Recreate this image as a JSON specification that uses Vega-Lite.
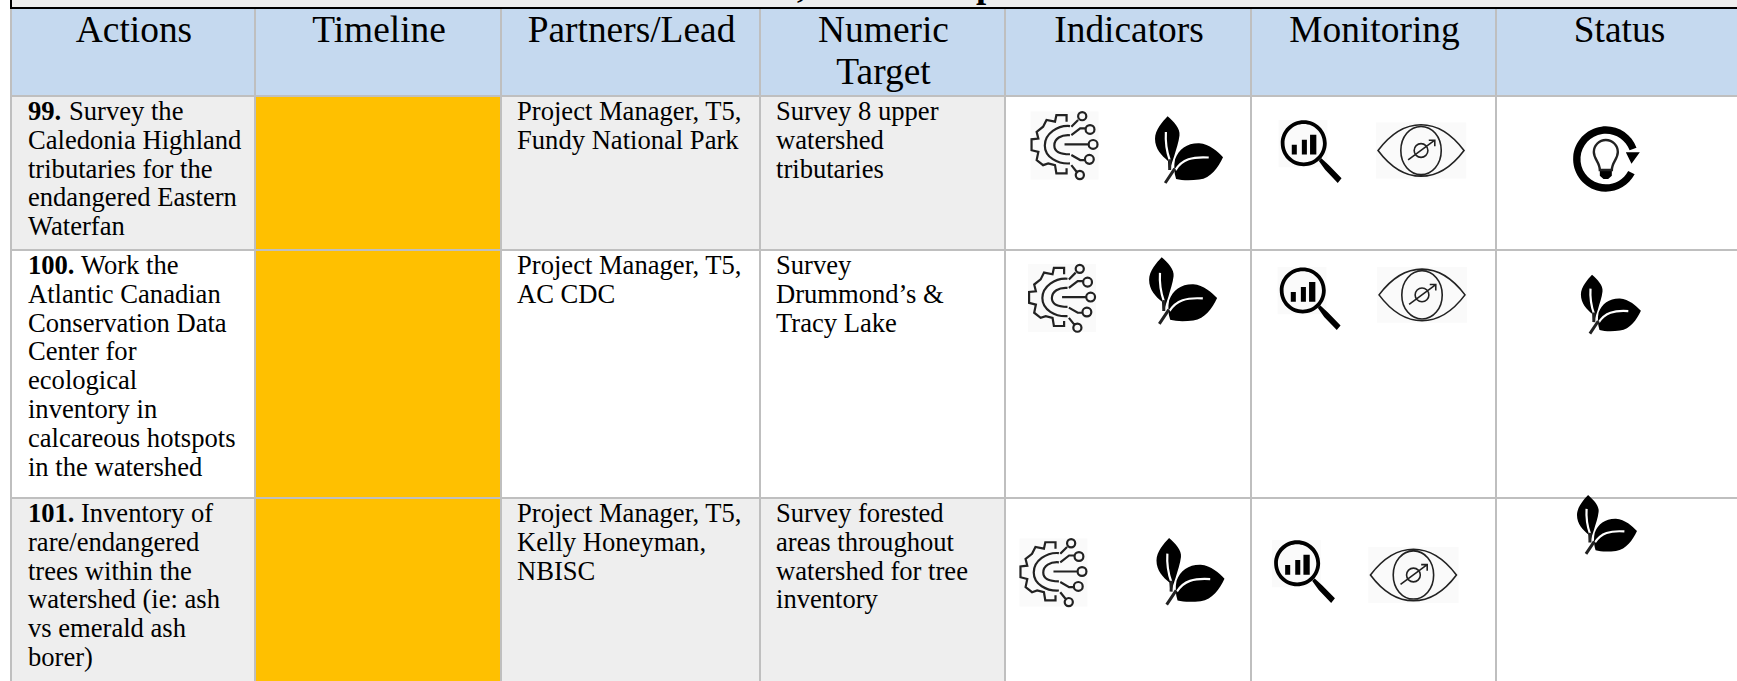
{
"$schema":"https://vega.github.io/schema/vega-lite/v6.json",
"width":1737,"height":681,"padding":0,"autosize":{"type":"none"},"background":"white",
"config":{"view":{"stroke":null},"text":{"font":"Liberation Serif"}},
"datasets":{
"cells":[
{"col":0,"colEnd":1,"row":0,"rowEnd":1,"kind":"header"},{"col":1,"colEnd":2,"row":0,"rowEnd":1,"kind":"header"},{"col":2,"colEnd":3,"row":0,"rowEnd":1,"kind":"header"},{"col":3,"colEnd":4,"row":0,"rowEnd":1,"kind":"header"},{"col":4,"colEnd":5,"row":0,"rowEnd":1,"kind":"header"},{"col":5,"colEnd":6,"row":0,"rowEnd":1,"kind":"header"},{"col":6,"colEnd":7,"row":0,"rowEnd":1,"kind":"header"},
{"col":0,"colEnd":1,"row":1,"rowEnd":2,"kind":"shaded"},{"col":1,"colEnd":2,"row":1,"rowEnd":2,"kind":"timeline"},{"col":2,"colEnd":3,"row":1,"rowEnd":2,"kind":"shaded"},{"col":3,"colEnd":4,"row":1,"rowEnd":2,"kind":"shaded"},{"col":4,"colEnd":5,"row":1,"rowEnd":2,"kind":"plain"},{"col":5,"colEnd":6,"row":1,"rowEnd":2,"kind":"plain"},{"col":6,"colEnd":7,"row":1,"rowEnd":2,"kind":"plain"},
{"col":0,"colEnd":1,"row":2,"rowEnd":3,"kind":"plain"},{"col":1,"colEnd":2,"row":2,"rowEnd":3,"kind":"timeline"},{"col":2,"colEnd":3,"row":2,"rowEnd":3,"kind":"plain"},{"col":3,"colEnd":4,"row":2,"rowEnd":3,"kind":"plain"},{"col":4,"colEnd":5,"row":2,"rowEnd":3,"kind":"plain"},{"col":5,"colEnd":6,"row":2,"rowEnd":3,"kind":"plain"},{"col":6,"colEnd":7,"row":2,"rowEnd":3,"kind":"plain"},
{"col":0,"colEnd":1,"row":3,"rowEnd":4,"kind":"shaded"},{"col":1,"colEnd":2,"row":3,"rowEnd":4,"kind":"timeline"},{"col":2,"colEnd":3,"row":3,"rowEnd":4,"kind":"shaded"},{"col":3,"colEnd":4,"row":3,"rowEnd":4,"kind":"shaded"},{"col":4,"colEnd":5,"row":3,"rowEnd":4,"kind":"plain"},{"col":5,"colEnd":6,"row":3,"rowEnd":4,"kind":"plain"},{"col":6,"colEnd":7,"row":3,"rowEnd":4,"kind":"plain"},
{"col":0,"colEnd":7,"row":-1,"rowEnd":0,"kind":"title"}],
"headers":[
{"col":0.5,"row":0,"text":"Actions"},{"col":1.5,"row":0,"text":"Timeline"},{"col":2.5,"row":0,"text":"Partners/Lead"},{"col":3.5,"row":0,"text":"Numeric\nTarget"},{"col":4.5,"row":0,"text":"Indicators"},{"col":5.5,"row":0,"text":"Monitoring"},{"col":6.5,"row":0,"text":"Status"}],
"titleBits":[{"col":3.151,"row":-0.393,"text":","},{"col":3.882,"row":-0.393,"text":"p"}],
"leads":[{"col":0.004,"row":1,"text":"99."},{"col":0.004,"row":2,"text":"100."},{"col":0.004,"row":3,"text":"101."}],
"firstLines":[
{"col":0.172,"row":1,"text":"Survey the"},
{"col":0.221,"row":2,"text":"Work the"},
{"col":0.221,"row":3,"text":"Inventory of"},
{"col":2,"row":1,"text":"Project Manager, T5,\nFundy National Park"},
{"col":3,"row":1,"text":"Survey 8 upper\nwatershed\ntributaries"},
{"col":2,"row":2,"text":"Project Manager, T5,\nAC CDC"},
{"col":3,"row":2,"text":"Survey\nDrummond\u2019s &\nTracy Lake"},
{"col":2,"row":3,"text":"Project Manager, T5,\nKelly Honeyman,\nNBISC"},
{"col":3,"row":3,"text":"Survey forested\nareas throughout\nwatershed for tree\ninventory"}],
"continued":[
{"col":0.004,"row":1,"text":"Caledonia Highland\ntributaries for the\nendangered Eastern\nWaterfan"},
{"col":0.004,"row":2,"text":"Atlantic Canadian\nConservation Data\nCenter for\necological\ninventory in\ncalcareous hotspots\nin the watershed"},
{"col":0.004,"row":3,"text":"rare/endangered\ntrees within the\nwatershed (ie: ash\nvs emerald ash\nborer)"}],
"icons":[
{"col":4.242,"row":1.321,"icon":"gear"},{"col":4.748,"row":1.344,"icon":"leaf"},{"col":5.241,"row":1.36,"icon":"magnifier"},{"col":5.694,"row":1.354,"icon":"eye"},{"col":6.451,"row":1.409,"icon":"bulb"},
{"col":4.232,"row":2.194,"icon":"gear"},{"col":4.724,"row":2.161,"icon":"leaf"},{"col":5.237,"row":2.196,"icon":"magnifier"},{"col":5.698,"row":2.181,"icon":"eye"},{"col":6.469,"row":2.216,"icon":"leafSmall"},
{"col":4.197,"row":3.388,"icon":"gear"},{"col":4.754,"row":3.378,"icon":"leaf"},{"col":5.214,"row":3.383,"icon":"magnifier"},{"col":5.663,"row":3.401,"icon":"eye"},{"col":6.453,"row":3.135,"icon":"leafSmall"}]
},
"encoding":{
"x":{"field":"col","type":"quantitative","axis":null,"scale":{"domain":[0,1,2,3,4,5,6,7],"range":[11,255,501,760,1005,1251,1496,1741],"nice":false,"zero":false}},
"y":{"field":"row","type":"quantitative","axis":null,"scale":{"domain":[-1,0,1,2,3,4],"range":[-20,8,96,250,498,690],"nice":false,"zero":false}}
},
"layer":[
{"data":{"name":"cells"},"mark":{"type":"rect","strokeWidth":2},
"encoding":{"x2":{"field":"colEnd"},"y2":{"field":"rowEnd"},
"fill":{"field":"kind","type":"nominal","legend":null,"scale":{"domain":["header","shaded","plain","timeline","title"],"range":["#C5D9EF","#EEEEEE","#FFFFFF","#FFC000","#EEEEEE"]}},
"stroke":{"field":"kind","type":"nominal","legend":null,"scale":{"domain":["header","shaded","plain","timeline","title"],"range":["#BFBFBF","#BFBFBF","#BFBFBF","#BFBFBF","#000000"]}}}},
{"data":{"name":"headers"},"mark":{"type":"text","fontSize":37.4,"align":"center","baseline":"alphabetic","dx":1,"dy":34,"lineBreak":"\n","lineHeight":42,"color":"#000000"},"encoding":{"text":{"field":"text"}}},
{"data":{"name":"titleBits"},"mark":{"type":"text","fontSize":36.7,"fontWeight":"bold","align":"left","baseline":"alphabetic","color":"#000000"},"encoding":{"text":{"field":"text"}}},
{"data":{"name":"leads"},"mark":{"type":"text","fontSize":26.6,"fontWeight":"bold","align":"left","baseline":"alphabetic","dx":16,"dy":24,"color":"#000000"},"encoding":{"text":{"field":"text"}}},
{"data":{"name":"firstLines"},"mark":{"type":"text","fontSize":26.6,"align":"left","baseline":"alphabetic","dx":16,"dy":24,"lineBreak":"\n","lineHeight":28.8,"color":"#000000"},"encoding":{"text":{"field":"text"}}},
{"data":{"name":"continued"},"mark":{"type":"text","fontSize":26.6,"align":"left","baseline":"alphabetic","dx":16,"dy":52.8,"lineBreak":"\n","lineHeight":28.8,"color":"#000000"},"encoding":{"text":{"field":"text"}}},
{"data":{"name":"icons"},"mark":{"type":"point","filled":true,"opacity":1,"fill":"#FAFAFA","strokeWidth":0},
"encoding":{
"size":{"field":"icon","type":"ordinal","legend":null,"scale":{"type":"ordinal","domain":["gear","leaf","leafSmall","magnifier","eye","bulb"],"range":[4624,4624,3600,3969,7396,4444]}},
"shape":{"field":"icon","type":"nominal","legend":null,"scale":{"domain":["gear","leaf","leafSmall","magnifier","eye","bulb"],"range":[
"M-1 -1 L1 -1 L1 1 L-1 1Z","M0 0","M0 0","M-1 -1 L.55 -1 L.55 .5 L-1 .5Z","M-1.05 -.65 L1.05 -.65 L1.05 .65 L-1.05 .65Z","M0 0"]}}}},
{"data":{"name":"icons"},"mark":{"type":"point","filled":true,"opacity":1,"fill":"#000000","strokeWidth":0},
"encoding":{
"size":{"field":"icon","type":"ordinal","legend":null,"scale":{"type":"ordinal","domain":["gear","leaf","leafSmall","magnifier","eye","bulb"],"range":[4624,4624,3600,3969,7396,4444]}},
"shape":{"field":"icon","type":"nominal","legend":null,"scale":{"domain":["gear","leaf","leafSmall","magnifier","eye","bulb"],"range":[
"M0 0",
"M-.63 -.96 C-.45 -.8 -.25 -.6 -.28 -.4 C-.3 -.2 -.38 0 -.43 .19 L-.55 .55 L-.6 .55 L-.62 .35 C-.8 .2 -1 0 -1 -.3 C-1 -.55 -.78 -.8 -.63 -.96Z M-.41 .3 C-.3 0 -.05 -.18 .3 -.17 C.6 -.15 .85 .08 1 .24 C.85 .55 .65 .85 .3 .9 C.05 .93 -.2 .93 -.38 .88 C-.44 .7 -.45 .5 -.41 .3Z",
"M-.63 -.96 C-.45 -.8 -.25 -.6 -.28 -.4 C-.3 -.2 -.38 0 -.43 .19 L-.55 .55 L-.6 .55 L-.62 .35 C-.8 .2 -1 0 -1 -.3 C-1 -.55 -.78 -.8 -.63 -.96Z M-.41 .3 C-.3 0 -.05 -.18 .3 -.17 C.6 -.15 .85 .08 1 .24 C.85 .55 .65 .85 .3 .9 C.05 .93 -.2 .93 -.38 .88 C-.44 .7 -.45 .5 -.41 .3Z",
"M.53 -.26 A.73 .73 0 1 1 -.93 -.26 A.73 .73 0 1 1 .53 -.26Z M.41 -.26 A.61 .61 0 1 0 -.81 -.26 A.61 .61 0 1 0 .41 -.26Z M.28 .3 L.36 .22 L.6 .44 L1 .85 L.88 1 L.48 .58Z M-.58 -.21 L-.42 -.21 L-.42 .1 L-.58 .1Z M-.26 -.37 L-.1 -.37 L-.1 .1 L-.26 .1Z M0 -.53 L.2 -.53 L.2 .1 L0 .1Z",
"M0 0",
"M.9 -.335 A.98 .98 0 1 0 .845 .46 L.651 .357 A.76 .76 0 1 1 .694 -.26 Z M.58 -.2 L1 -.2 L.75 .14Z M-.2 .33 L.16 .33 L.16 .5 L.05 .6 L-.09 .6 L-.2 .5Z"
]}}}},
{"data":{"name":"icons"},"mark":{"type":"point","filled":false,"opacity":1,"stroke":"#FFFFFF","strokeWidth":2.2},
"encoding":{
"size":{"field":"icon","type":"ordinal","legend":null,"scale":{"type":"ordinal","domain":["gear","leaf","leafSmall","magnifier","eye","bulb"],"range":[4624,4624,3600,3969,7396,4444]}},
"shape":{"field":"icon","type":"nominal","legend":null,"scale":{"domain":["gear","leaf","leafSmall","magnifier","eye","bulb"],"range":[
"M0 0",
"M-.68 -.5 C-.7 -.2 -.65 .1 -.56 .35 M-.4 .62 C-.2 .3 .1 .22 .58 .25",
"M-.68 -.5 C-.7 -.2 -.65 .1 -.56 .35 M-.4 .62 C-.2 .3 .1 .22 .58 .25",
"M0 0","M0 0","M0 0"]}}}},
{"data":{"name":"icons"},"mark":{"type":"point","filled":false,"opacity":1,"stroke":"#222222"},
"encoding":{
"size":{"field":"icon","type":"ordinal","legend":null,"scale":{"type":"ordinal","domain":["gear","leaf","leafSmall","magnifier","eye","bulb"],"range":[4624,4624,3600,3969,7396,4444]}},
"strokeWidth":{"field":"icon","type":"ordinal","legend":null,"scale":{"type":"ordinal","domain":["gear","leaf","leafSmall","magnifier","eye","bulb"],"range":[2.2,3,3,1,1.6,2.4]}},
"shape":{"field":"icon","type":"nominal","legend":null,"scale":{"domain":["gear","leaf","leafSmall","magnifier","eye","bulb"],"range":[
"M.06 -.7 L.06 -.89 L-.24 -.89 L-.28 -.7 L-.53 -.75 L-.63 -.55 L-.82 -.4 L-.77 -.2 L-.97 -.18 L-.97 .14 L-.77 .19 L-.82 .43 L-.63 .58 L-.48 .53 L-.28 .58 L-.24 .82 L.06 .82 L.06 .67 M.16 -.57 C-.2 -.6 -.58 -.35 -.58 0 C-.58 .35 -.2 .55 .16 .53 M.16 -.3 C-.1 -.32 -.3 -.2 -.3 0 C-.3 .2 -.1 .26 .16 .26 M0 -.03 L.7 -.03 M.97 -.03 A.13 .13 0 1 0 .71 -.03 A.13 .13 0 1 0 .97 -.03Z M.2 -.3 L.46 -.5 L.62 -.5 M.88 -.47 A.13 .13 0 1 0 .62 -.47 A.13 .13 0 1 0 .88 -.47Z M.2 -.55 L.4 -.75 M.64 -.86 A.12 .12 0 1 0 .4 -.86 A.12 .12 0 1 0 .64 -.86Z M.2 .28 L.46 .43 L.62 .43 M.86 .41 A.13 .13 0 1 0 .6 .41 A.13 .13 0 1 0 .86 .41Z M.2 .58 L.36 .78 M.57 .87 A.12 .12 0 1 0 .33 .87 A.12 .12 0 1 0 .57 .87Z",
"M-.7 1 L-.42 .58 M-.56 .3 L-.57 .62",
"M-.7 1 L-.42 .58 M-.56 .3 L-.57 .62",
"M-.62 -.26 L-.62 -.26",
"M-1 0 C-.7 -.4 -.35 -.6 0 -.6 C.35 -.6 .7 -.4 1 0 C.7 .4 .35 .6 0 .6 C-.35 .6 -.7 .4 -1 0Z M.47 0 C.47 .32 .26 .56 0 .56 C-.26 .56 -.47 .32 -.47 0 C-.47 -.32 -.26 -.56 0 -.56 C.26 -.56 .47 -.32 .47 0Z M.16 0 A.16 .16 0 1 1 -.16 0 A.16 .16 0 1 1 .16 0Z M-.3 .22 L.32 -.24 M.18 -.24 L.32 -.24 L.32 -.1",
"M-.2 .33 C-.2 .1 -.38 0 -.38 -.21 A.36 .36 0 1 1 .34 -.21 C.34 0 .16 .1 .16 .33 Z"
]}}}}
],
"resolve":{"scale":{"shape":"independent","fill":"independent","stroke":"independent"}}
}
